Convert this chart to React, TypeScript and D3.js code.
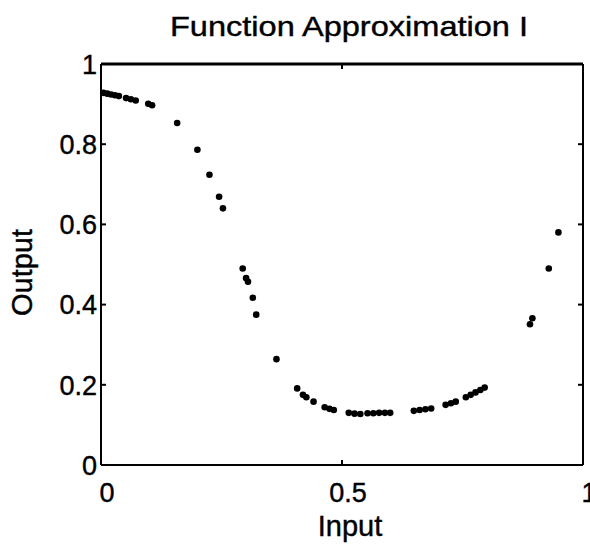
import React from "react";
import * as d3 from "d3";

// Sampled network output against the input
const inputs = [
  0.005, 0.013, 0.021, 0.029, 0.037, 0.052, 0.062, 0.072, 0.098, 0.106,
  0.158, 0.2, 0.225, 0.245, 0.253, 0.294, 0.301, 0.305, 0.315, 0.322,
  0.364, 0.407, 0.419, 0.426, 0.441, 0.464, 0.474, 0.483, 0.514, 0.526,
  0.538, 0.553, 0.565, 0.577, 0.589, 0.6, 0.649, 0.661, 0.673, 0.685,
  0.715, 0.726, 0.736, 0.757, 0.767, 0.777, 0.787, 0.796, 0.89, 0.895,
  0.929, 0.949,
];
const outputs = [
  0.928, 0.926, 0.924, 0.922, 0.92, 0.915, 0.912, 0.909, 0.901, 0.897,
  0.853, 0.786, 0.724, 0.669, 0.64, 0.49, 0.466, 0.457, 0.417, 0.375,
  0.264, 0.191, 0.175, 0.169, 0.158, 0.144, 0.14, 0.137, 0.13, 0.128,
  0.127, 0.129, 0.129, 0.13, 0.13, 0.13, 0.135, 0.137, 0.139, 0.141,
  0.15, 0.154, 0.158, 0.169, 0.175, 0.181, 0.187, 0.193, 0.351, 0.366,
  0.49, 0.58,
];

const xTicks = [0, 0.5, 1];
const xTickLabels = ["0", "0.5", "1"];
const yTicks = [0, 0.2, 0.4, 0.6, 0.8, 1];
const yTickLabels = ["0", "0.2", "0.4", "0.6", "0.8", "1"];

const title = "Function Approximation I";
const xTitle = "Input";
const yTitle = "Output";

const W = 590;
const H = 550;
const plot = { left: 101, right: 583, top: 64, bottom: 465 };
const font = "'Liberation Sans', Arial, Helvetica, sans-serif";

export default function App() {
  const x = d3.scaleLinear().domain([0, 1]).range([plot.left, plot.right]);
  const y = d3.scaleLinear().domain([0, 1]).range([plot.bottom, plot.top]);
  const points = d3.zip(inputs, outputs);
  const cy = (plot.top + plot.bottom) / 2;

  return (
    <svg
      width={W}
      height={H}
      viewBox={`0 0 ${W} ${H}`}
      style={{ position: "absolute", left: 0, top: 0, background: "#fff" }}
      fontFamily={font}
    >
      <rect width={W} height={H} fill="#fff" />
      {/* axes box */}
      <g stroke="#000" fill="none">
        <line x1={plot.left} x2={plot.right} y1={plot.top} y2={plot.top} strokeWidth={3} />
        <line x1={plot.left} x2={plot.right} y1={plot.bottom} y2={plot.bottom} strokeWidth={2} />
        <line x1={plot.left} x2={plot.left} y1={plot.top} y2={plot.bottom} strokeWidth={2} />
        <line x1={plot.right} x2={plot.right} y1={plot.top} y2={plot.bottom} strokeWidth={2} />
      </g>
      {/* inward ticks */}
      <g stroke="#000" strokeWidth={2}>
        {yTicks.map((t) => (
          <g key={`yt${t}`}>
            <line x1={plot.left} x2={plot.left + 5} y1={y(t)} y2={y(t)} />
            <line x1={plot.right} x2={plot.right - 5} y1={y(t)} y2={y(t)} />
          </g>
        ))}
        {xTicks.map((t) => (
          <g key={`xt${t}`}>
            <line x1={x(t)} x2={x(t)} y1={plot.bottom} y2={plot.bottom - 5} />
            <line x1={x(t)} x2={x(t)} y1={plot.top} y2={plot.top + 5} />
          </g>
        ))}
      </g>
      {/* tick labels */}
      <g fontSize={27} fill="#000" stroke="#000" strokeWidth={0.4}>
        {yTicks.map((t, i) => (
          <text key={`yl${t}`} x={plot.left - 4} y={y(t)} dy="0.36em" textAnchor="end">
            {yTickLabels[i]}
          </text>
        ))}
        {xTicks.map((t, i) => (
          <text key={`xl${t}`} x={x(t) + 6} y={plot.bottom + 37} textAnchor="middle">
            {xTickLabels[i]}
          </text>
        ))}
      </g>
      {/* data points */}
      <g fill="#000">
        {points.map(([a, b], i) => (
          <circle key={i} cx={x(a)} cy={y(b)} r={3.3} />
        ))}
      </g>
      {/* titles */}
      <g fill="#000" stroke="#000" strokeWidth={0.4}>
        <text
          x={x(0.5) + 7}
          y={36}
          fontSize={28}
          textAnchor="middle"
          textLength={358}
          lengthAdjust="spacingAndGlyphs"
        >
          {title}
        </text>
        <text x={x(0.5) + 8} y={536} fontSize={29} textAnchor="middle">
          {xTitle}
        </text>
        <text
          transform={`translate(32,${cy + 8}) rotate(-90)`}
          fontSize={29}
          textAnchor="middle"
        >
          {yTitle}
        </text>
      </g>
    </svg>
  );
}
